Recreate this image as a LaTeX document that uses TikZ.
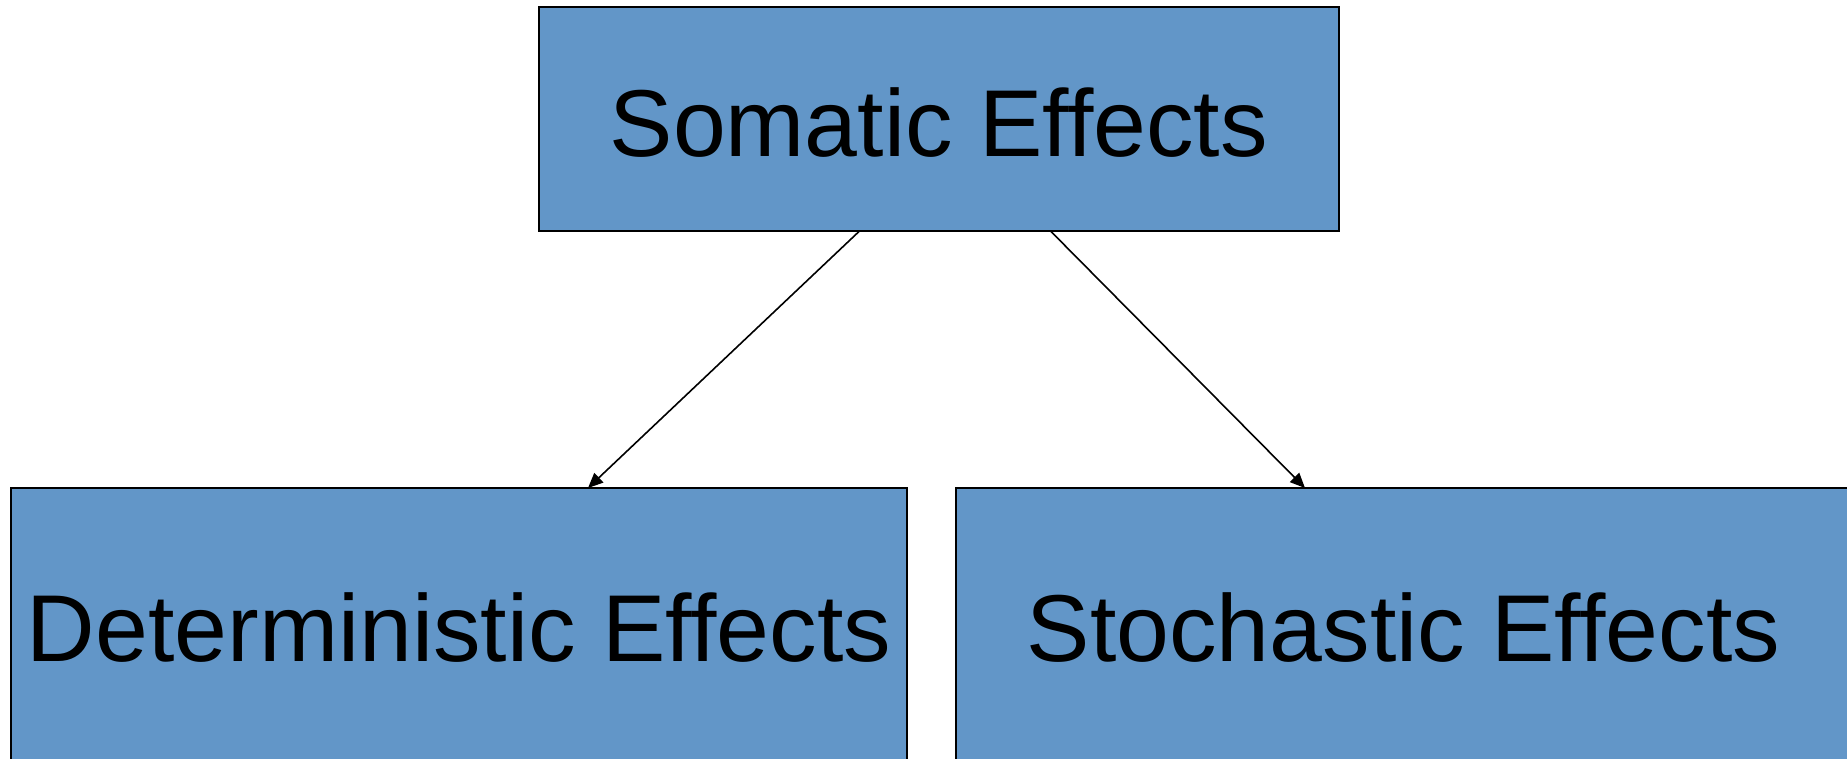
\documentclass[tikz,border=0pt]{standalone}
\usepackage{fontspec}
\setmainfont{Liberation Sans}
\usetikzlibrary{arrows.meta}
\definecolor{boxblue}{RGB}{98,150,200}
\begin{document}
\begin{tikzpicture}[x=1pt,y=-1pt,
  bluebox/.style={draw=black,line width=2pt,fill=boxblue},
  boxlabel/.style={font=\fontsize{95}{114}\selectfont,inner sep=0pt,anchor=base},
  conn/.style={line width=1.6pt,-{Triangle[length=15pt,width=13pt]}}]
\useasboundingbox (0,0) rectangle (1847,759);
\begin{scope}
\clip (0,0) rectangle (1847,759);
\draw[bluebox] (538.5,7.5) rectangle (1339,231.5);
\draw[bluebox] (11,488) rectangle (907,780);
\draw[bluebox] (955.7,488) rectangle (1852,780);
\end{scope}
\node[boxlabel] (som) at (938.75,156.5) {Somatic Effects};
\node[boxlabel] (det) at (459,661) {Deterministic Effects};
\node[boxlabel] (sto) at (1403.5,661) {Stochastic Effects};
\coordinate (s1) at (859,231.5);
\coordinate (s2) at (1051,231.5);
\coordinate (e1) at (588,488);
\coordinate (e2) at (1305,488);
\draw[conn] (s1) -- (e1);
\draw[conn] (s2) -- (e2);
\end{tikzpicture}
\end{document}
